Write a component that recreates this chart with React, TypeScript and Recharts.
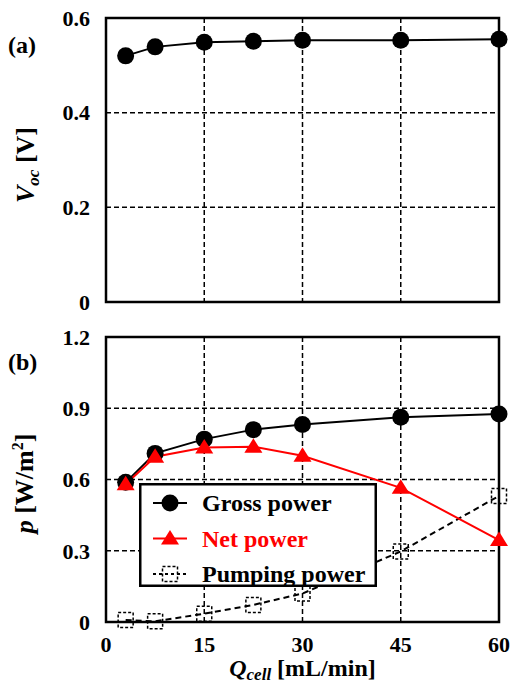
import React from "react";
import {
  LineChart,
  Line,
  XAxis,
  YAxis,
  CartesianGrid,
  ReferenceArea,
  Legend,
} from "recharts";

const flow = [3, 7.5, 15, 22.5, 30, 45, 60];
const voc = [0.52, 0.539, 0.549, 0.551, 0.553, 0.553, 0.555];
const gross = [0.588, 0.71, 0.77, 0.81, 0.832, 0.862, 0.876];
const net = [0.58, 0.696, 0.735, 0.738, 0.7, 0.565, 0.345];
const pumping = [0.008, 0.003, 0.035, 0.072, 0.12, 0.297, 0.531];

const xTicks = [0, 15, 30, 45, 60];
const vocTicks = [0, 0.2, 0.4, 0.6];
const powerTicks = [0, 0.3, 0.6, 0.9, 1.2];

const FONT = "Liberation Serif, Times New Roman, Times, serif";
const RED = "#ff0000";

const vocData = flow.map((q, i) => ({ q, voc: voc[i] }));
const powerData = flow.map((q, i) => ({
  q,
  gross: gross[i],
  net: net[i],
  pumping: pumping[i],
}));

const tickStyle = { fontSize: 22, fontWeight: 700, fill: "#000", fontFamily: FONT };

function Circle({ cx, cy }: { cx?: number; cy?: number }) {
  if (cx == null || cy == null) return null;
  return <circle cx={cx} cy={cy} r={8.5} fill="#000" />;
}

function Triangle({ cx, cy, color = RED }: { cx?: number; cy?: number; color?: string }) {
  if (cx == null || cy == null) return null;
  return (
    <polygon
      points={`${cx},${cy - 8.5} ${cx - 9},${cy + 6} ${cx + 9},${cy + 6}`}
      fill={color}
    />
  );
}

function Square({ cx, cy }: { cx?: number; cy?: number }) {
  if (cx == null || cy == null) return null;
  return (
    <rect
      x={cx - 7.5}
      y={cy - 7.5}
      width={15}
      height={15}
      fill="none"
      stroke="#000"
      strokeWidth={1.5}
      strokeDasharray="3 2"
    />
  );
}

const legendItems = [
  { name: "Gross power", color: "#000", marker: "circle", dash: undefined },
  { name: "Net power", color: RED, marker: "triangle", dash: undefined },
  { name: "Pumping power", color: "#000", marker: "square", dash: "3 3" },
];

function LegendBox() {
  return (
    <svg width={238} height={104} style={{ display: "block" }}>
      <rect x={1.25} y={1.25} width={235.5} height={101.5} fill="#fff" stroke="#000" strokeWidth={2.5} />
      {legendItems.map((it, i) => {
        const y = 20 + i * 35.5;
        return (
          <g key={it.name}>
            <line x1={14} x2={48} y1={y} y2={y} stroke={it.color} strokeWidth={2} strokeDasharray={it.dash} />
            {it.marker === "circle" && <Circle cx={31} cy={y} />}
            {it.marker === "triangle" && <Triangle cx={31} cy={y} />}
            {it.marker === "square" && <Square cx={31} cy={y} />}
            <text
              x={63}
              y={y + 8}
              fontSize={24}
              fontWeight={700}
              fontFamily={FONT}
              fill={it.color}
            >
              {it.name}
            </text>
          </g>
        );
      })}
    </svg>
  );
}

function VocLabel({ viewBox }: any) {
  const cy = viewBox ? viewBox.y + viewBox.height / 2 + 5 : 165;
  const x = 34;
  return (
    <text
      x={x}
      y={cy}
      transform={`rotate(-90, ${x}, ${cy})`}
      textAnchor="middle"
      fontSize={26}
      fontWeight={700}
      fontFamily={FONT}
      fill="#000"
    >
      <tspan fontStyle="italic">V</tspan>
      <tspan fontStyle="italic" fontSize={17} dy={5}>oc</tspan>
      <tspan dy={-5}> [V]</tspan>
    </text>
  );
}

function PowerLabel({ viewBox }: any) {
  const cy = viewBox ? viewBox.y + viewBox.height / 2 + 4 : 164;
  const x = 33;
  return (
    <text
      x={x}
      y={cy}
      transform={`rotate(-90, ${x}, ${cy})`}
      textAnchor="middle"
      fontSize={26}
      fontWeight={700}
      fontFamily={FONT}
      fill="#000"
    >
      <tspan fontStyle="italic">p</tspan>
      <tspan> [W/m</tspan>
      <tspan fontSize={16} dy={-10}>2</tspan>
      <tspan dy={10}>]</tspan>
    </text>
  );
}

function FlowLabel({ viewBox }: any) {
  const cx = viewBox ? viewBox.x + viewBox.width / 2 : 302;
  return (
    <text
      x={cx}
      y={356}
      textAnchor="middle"
      fontSize={24}
      fontWeight={700}
      fontFamily={FONT}
      fill="#000"
    >
      <tspan fontStyle="italic">Q</tspan>
      <tspan fontStyle="italic" fontSize={17} dy={4}>cell</tspan>
      <tspan dy={-4}> [mL/min]</tspan>
    </text>
  );
}

const panelLabel: React.CSSProperties = {
  position: "absolute",
  left: 8,
  fontSize: 24,
  fontWeight: 700,
  fontFamily: FONT,
  lineHeight: "28px",
  color: "#000",
};

const gridProps = { stroke: "#000", strokeDasharray: "5 3", strokeWidth: 1.5 };

export default function App() {
  return (
    <div
      style={{
        position: "absolute",
        left: 0,
        top: 0,
        width: 515,
        height: 689,
        background: "#fff",
        fontFamily: FONT,
      }}
    >
      <LineChart width={515} height={320} data={vocData} margin={{ top: 18, right: 16, bottom: 17, left: 0 }}>
        <CartesianGrid {...gridProps} />
        <XAxis
          dataKey="q"
          type="number"
          domain={[0, 60]}
          ticks={xTicks}
          tick={() => <g />}
          axisLine={false}
          tickLine={false}
          height={1}
        />
        <YAxis
          type="number"
          domain={[0, 0.6]}
          ticks={vocTicks}
          tick={tickStyle}
          tickFormatter={(v: number) => String(v)}
          axisLine={false}
          tickLine={false}
          tickSize={0}
          tickMargin={16}
          width={106}
          label={<VocLabel />}
        />
        <ReferenceArea x1={0} x2={60} y1={0} y2={0.6} fill="none" stroke="#000" strokeWidth={2.5} fillOpacity={0} />
        <Line
          dataKey="voc"
          stroke="#000"
          strokeWidth={2}
          dot={(p: any) => <Circle key={p.index} cx={p.cx} cy={p.cy} />}
          isAnimationActive={false}
        />
      </LineChart>
      <LineChart width={515} height={369} data={powerData} margin={{ top: 17, right: 16, bottom: 0, left: 0 }}>
        <CartesianGrid {...gridProps} />
        <XAxis
          dataKey="q"
          type="number"
          domain={[0, 60]}
          ticks={xTicks}
          tick={tickStyle}
          axisLine={false}
          tickLine={false}
          tickSize={0}
          tickMargin={14}
          height={67}
          label={<FlowLabel />}
        />
        <YAxis
          type="number"
          domain={[0, 1.2]}
          ticks={powerTicks}
          tick={tickStyle}
          tickFormatter={(v: number) => String(v)}
          axisLine={false}
          tickLine={false}
          tickSize={0}
          tickMargin={16}
          width={106}
          label={<PowerLabel />}
        />
        <ReferenceArea x1={0} x2={60} y1={0} y2={1.2} fill="none" stroke="#000" strokeWidth={2.5} fillOpacity={0} />
        <Line
          dataKey="pumping"
          stroke="#000"
          strokeWidth={2}
          strokeDasharray="6 4"
          dot={(p: any) => <Square key={p.index} cx={p.cx} cy={p.cy} />}
          isAnimationActive={false}
        />
        <Line
          dataKey="gross"
          stroke="#000"
          strokeWidth={2}
          dot={(p: any) => <Circle key={p.index} cx={p.cx} cy={p.cy} />}
          isAnimationActive={false}
        />
        <Line
          dataKey="net"
          stroke={RED}
          strokeWidth={2}
          dot={(p: any) => <Triangle key={p.index} cx={p.cx} cy={p.cy} />}
          isAnimationActive={false}
        />
        <Legend
          layout="vertical"
          align="center"
          verticalAlign="middle"
          content={() => <LegendBox />}
          wrapperStyle={{ position: "absolute", left: 139, top: 163, width: 238, height: 104 }}
        />
      </LineChart>
      <div style={{ ...panelLabel, top: 31 }}>(a)</div>
      <div style={{ ...panelLabel, top: 348 }}>(b)</div>
    </div>
  );
}
